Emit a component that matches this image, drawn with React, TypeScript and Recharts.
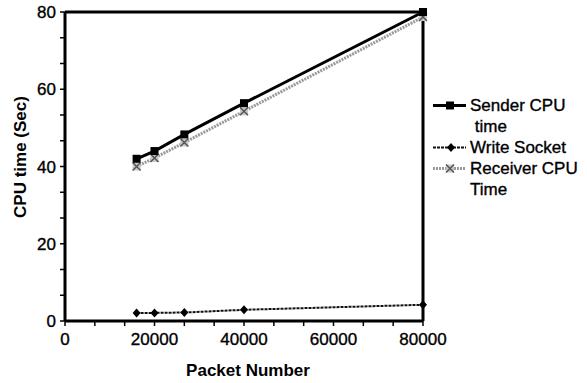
import { LineChart, Line, XAxis, YAxis, ReferenceLine } from "recharts";

const packets = [16000, 20000, 26667, 40000, 80000];
const senderCpu = [42, 44, 48.3, 56.4, 80];
const writeSocket = [2.1, 2.1, 2.2, 2.9, 4.2];
const receiverCpu = [40, 42.2, 46.2, 54.3, 78.7];

const xLabels = [0, 20000, 40000, 60000, 80000];
const yLabels = [0, 20, 40, 60, 80];

const FONT = "'Liberation Sans', Arial, Helvetica, sans-serif";

const data = packets.map((p, i) => ({
  packet: p,
  sender: senderCpu[i],
  write: writeSocket[i],
  receiver: receiverCpu[i],
}));

// two small ticks between every labelled one
const withMinor = (major: number[]) => {
  const out: number[] = [];
  major.forEach((v, i) => {
    out.push(v);
    if (i < major.length - 1) {
      const s = (major[i + 1] - v) / 3;
      out.push(v + s, v + 2 * s);
    }
  });
  return out;
};

const SquareDot = (p: any) => (
  <rect key={`sq-${p.index}`} x={p.cx - 4} y={p.cy - 4} width={8} height={8} fill="#000" />
);

const DiamondDot = (p: any) => (
  <path
    key={`di-${p.index}`}
    d={`M${p.cx},${p.cy - 4.5}L${p.cx + 4},${p.cy}L${p.cx},${p.cy + 4.5}L${p.cx - 4},${p.cy}Z`}
    fill="#000"
  />
);

const HatchDot = (p: any) => (
  <g key={`ha-${p.index}`}>
    <rect x={p.cx - 4} y={p.cy - 4} width={8} height={8} fill="#c8c8c8" />
    <path
      d={`M${p.cx - 4},${p.cy - 4}L${p.cx + 4},${p.cy + 4}M${p.cx + 4},${p.cy - 4}L${p.cx - 4},${p.cy + 4}`}
      stroke="#555"
      strokeWidth={1.5}
    />
  </g>
);

const legendRows = [
  { kind: "square", text: "Sender CPU" },
  { kind: "none", text: "\u00a0time" },
  { kind: "diamond", text: "Write Socket" },
  { kind: "hatch", text: "Receiver CPU" },
  { kind: "none", text: "Time" },
];

const LegendSymbol = ({ kind }: { kind: string }) => (
  <svg width={40} height={21} style={{ display: "block", flex: "none" }}>
    {kind === "square" && (
      <g>
        <line x1={3} x2={36} y1={10.5} y2={10.5} stroke="#000" strokeWidth={3} />
        <rect x={16} y={6.5} width={8} height={8} fill="#000" />
      </g>
    )}
    {kind === "diamond" && (
      <g>
        <line x1={3} x2={36} y1={10.5} y2={10.5} stroke="#111" strokeWidth={2} strokeDasharray="3 1" />
        <path d="M21,6L25,10.5L21,15L17,10.5Z" fill="#000" />
      </g>
    )}
    {kind === "hatch" && (
      <g>
        <line x1={3} x2={36} y1={10.5} y2={10.5} stroke="#9a9a9a" strokeWidth={3} strokeDasharray="2 1" />
        <rect x={16} y={6.5} width={8} height={8} fill="#c8c8c8" />
        <path d="M16,6.5L24,14.5M24,6.5L16,14.5" stroke="#555" strokeWidth={1.5} />
      </g>
    )}
  </svg>
);

export default function App() {
  return (
    <div style={{ position: "relative", width: 587, height: 383, background: "#fff" }}>
      <style>{"body{margin:0;background:#fff}"}</style>
      <LineChart
        width={587}
        height={383}
        data={data}
        margin={{ top: 12, right: 164, left: 0, bottom: 0 }}
      >
        <XAxis
          dataKey="packet"
          type="number"
          domain={[0, 80000]}
          ticks={withMinor(xLabels)}
          interval={0}
          tickFormatter={(v: number) => (xLabels.includes(v) ? String(v) : "")}
          height={62}
          axisLine={{ stroke: "#000", strokeWidth: 3 }}
          tickLine={{ stroke: "#000", strokeWidth: 1.5 }}
          tickSize={5}
          tickMargin={7}
          tick={{ fill: "#000", fontSize: 17, fontFamily: FONT, stroke: "#000", strokeWidth: 0.35 }}
          label={{
            content: () => (
              <text x={248} y={376} textAnchor="middle" fontFamily={FONT} fontSize={17} fontWeight="bold" fill="#000">
                Packet Number
              </text>
            ),
          }}
        />
        <YAxis
          type="number"
          domain={[0, 80]}
          ticks={withMinor(yLabels)}
          interval={0}
          tickFormatter={(v: number) => (yLabels.includes(v) ? String(v) : "")}
          width={65}
          axisLine={{ stroke: "#000", strokeWidth: 3 }}
          tickLine={{ stroke: "#000", strokeWidth: 1.5 }}
          tickSize={5}
          tickMargin={4}
          tick={{ fill: "#000", fontSize: 17, fontFamily: FONT, stroke: "#000", strokeWidth: 0.35 }}
          label={{
            content: () => (
              <text
                transform="translate(26,157) rotate(-90)"
                textAnchor="middle"
                fontFamily={FONT}
                fontSize={17}
                fontWeight="bold"
                fill="#000"
              >
                CPU time (Sec)
              </text>
            ),
          }}
        />
        <ReferenceLine y={80} stroke="#000" strokeWidth={3} />
        <ReferenceLine x={80000} stroke="#000" strokeWidth={3} />
        <Line
          dataKey="receiver"
          stroke="#9a9a9a"
          strokeWidth={3}
          strokeDasharray="2 1"
          dot={HatchDot}
          isAnimationActive={false}
        />
        <Line dataKey="sender" stroke="#000" strokeWidth={3} dot={SquareDot} isAnimationActive={false} />
        <Line
          dataKey="write"
          stroke="#111"
          strokeWidth={2}
          strokeDasharray="3 1"
          dot={DiamondDot}
          isAnimationActive={false}
        />
      </LineChart>
      <div
        style={{
          position: "absolute",
          left: 430,
          top: 95,
          fontFamily: FONT,
          fontSize: 17,
          lineHeight: "21px",
          color: "#000",
          WebkitTextStroke: "0.35px #000",
        }}
      >
        {legendRows.map((r) => (
          <div key={r.text} style={{ display: "flex", alignItems: "center", height: 21 }}>
            <LegendSymbol kind={r.kind} />
            <span style={{ whiteSpace: "nowrap" }}>{r.text}</span>
          </div>
        ))}
      </div>
    </div>
  );
}
